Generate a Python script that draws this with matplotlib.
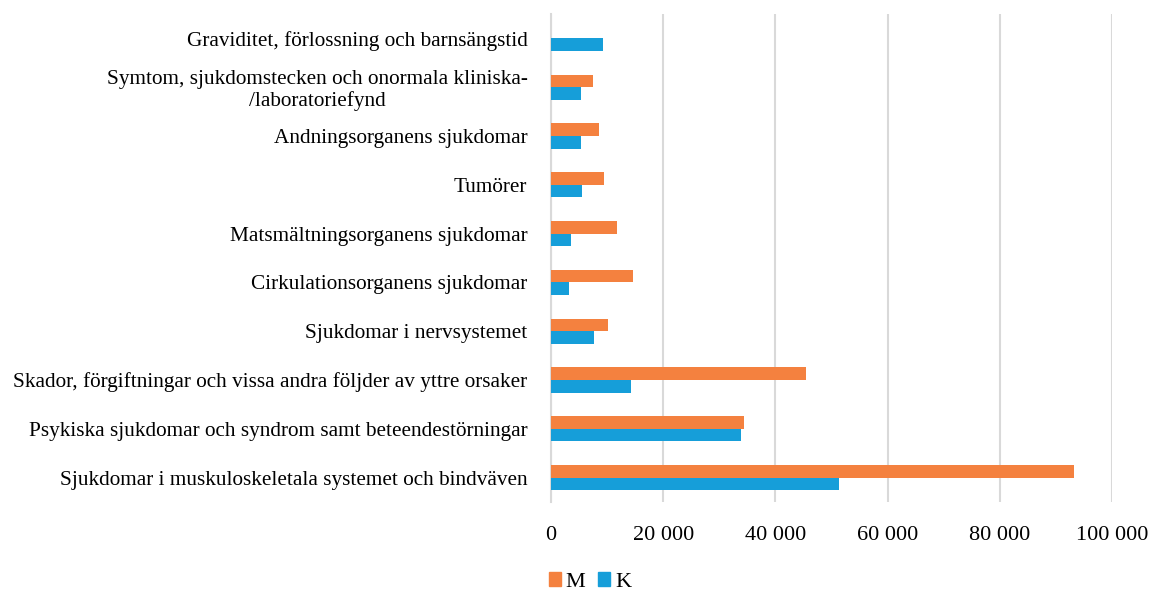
import matplotlib.pyplot as plt
from matplotlib.ticker import FuncFormatter, MultipleLocator
from matplotlib.patches import Patch
import numpy as np

plt.rcParams['font.family'] = ['Liberation Serif', 'DejaVu Serif']

# categories bottom -> top
categories = [
    "Sjukdomar i muskuloskeletala systemet och bindväven",
    "Psykiska sjukdomar och syndrom samt beteendestörningar",
    "Skador, förgiftningar och vissa andra följder av yttre orsaker",
    "Sjukdomar i nervsystemet",
    "Cirkulationsorganens sjukdomar",
    "Matsmältningsorganens sjukdomar",
    "Tumörer",
    "Andningsorganens sjukdomar",
    "Symtom, sjukdomstecken och onormala kliniska-\n/laboratoriefynd",
    "Graviditet, förlossning och barnsängstid",
]
men = [93300, 34400, 45400, 10200, 14700, 11800, 9400, 8600, 7400, 0]
women = [51400, 33800, 14200, 7700, 3200, 3600, 5600, 5300, 5400, 9300]

C_M = "#F4813F"
C_K = "#169ED9"
GRID = "#D9D9D9"

fig = plt.figure(figsize=(11.54, 5.92), dpi=100)
ax = fig.add_axes([551 / 1154, 1 - 502 / 592, (1112 - 551) / 1154, (502 - 14) / 592])

y = np.arange(len(categories))
h = 0.26
ax.barh(y + h / 2, men, height=h, color=C_M, zorder=3)
ax.barh(y - h / 2, women, height=h, color=C_K, zorder=3)

ax.set_xlim(0, 100000)
ax.set_ylim(-0.5, len(categories) - 0.5)
ax.xaxis.set_major_locator(MultipleLocator(20000))
ax.xaxis.set_major_formatter(FuncFormatter(lambda v, p: f"{int(v):,}".replace(",", " ")))
ax.grid(axis="x", color=GRID, linewidth=1.5, zorder=0)

ax.set_yticks(y)
ax.set_yticklabels(categories, fontsize=15.3, multialignment="center", linespacing=1.1)
ax.tick_params(axis="y", length=0, pad=17)
ax.tick_params(axis="x", length=0, pad=17, labelsize=16)

for s in ["top", "right", "bottom"]:
    ax.spines[s].set_visible(False)
ax.spines["left"].set_color(GRID)
ax.spines["left"].set_linewidth(1.5)

handles = [Patch(color=C_M, label="M"), Patch(color=C_K, label="K")]
fig.legend(handles=handles, loc="center", bbox_to_anchor=(590 / 1154, 1 - 582 / 592),
           ncol=2, frameon=False, fontsize=16, handlelength=0.54, handleheight=0.54,
           handletextpad=0.22, columnspacing=0.58, borderpad=0)

fig.savefig("out.png", dpi=100)
